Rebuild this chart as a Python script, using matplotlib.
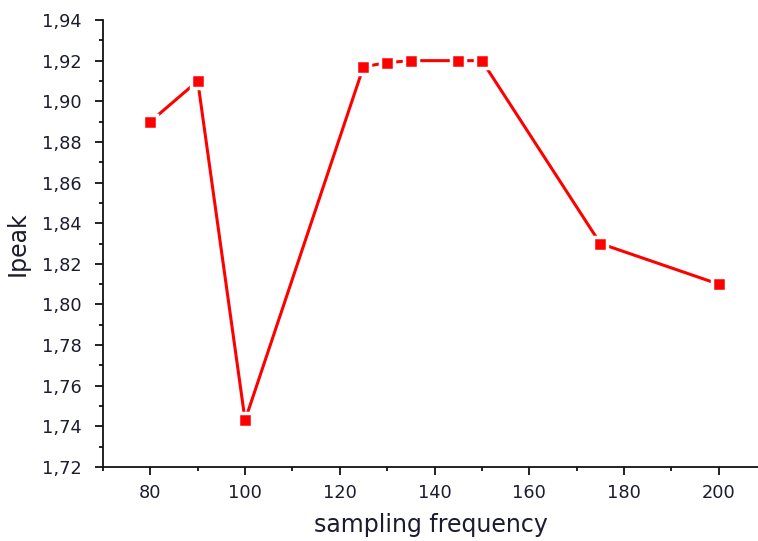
import matplotlib
matplotlib.use("Agg")
import matplotlib.pyplot as plt
from matplotlib.ticker import MultipleLocator, FuncFormatter

# Measured peak current versus sampling frequency
sampling_frequency = [80, 90, 100, 125, 130, 135, 145, 150, 175, 200]
ipeak = [1.890, 1.910, 1.743, 1.917, 1.919, 1.920, 1.920, 1.920, 1.830, 1.810]

x_ticks = [80, 100, 120, 140, 160, 180, 200]
y_ticks = [1.72, 1.74, 1.76, 1.78, 1.80, 1.82, 1.84, 1.86, 1.88, 1.90, 1.92, 1.94]

plt.rcParams["font.family"] = ["DejaVu Sans"]
text_color = "#1c1c30"

fig = plt.figure(figsize=(7.58, 5.41), dpi=100)
ax = fig.add_axes([103 / 758, 74 / 541, 655 / 758, 447 / 541])

ax.plot(sampling_frequency, ipeak, color="#ff0000", linewidth=2.2,
        marker="s", markersize=10.2, markerfacecolor="#ff0000",
        markeredgecolor="white", markeredgewidth=2.5, zorder=3)

ax.set_xlim(70, 208.3)
ax.set_ylim(1.72, 1.94)
ax.set_xticks(x_ticks)
ax.set_yticks(y_ticks)
ax.xaxis.set_minor_locator(MultipleLocator(10))
ax.yaxis.set_minor_locator(MultipleLocator(0.01))
ax.yaxis.set_major_formatter(FuncFormatter(lambda v, p: f"{v:.2f}".replace(".", ",")))

for side in ("top", "right"):
    ax.spines[side].set_visible(False)
for side in ("left", "bottom"):
    ax.spines[side].set_linewidth(1.3)
    ax.spines[side].set_color("#111111")

ax.tick_params(axis="both", which="major", direction="out", length=5.5, width=1.3,
               colors="#111111", labelcolor=text_color, labelsize=12.8)
ax.tick_params(axis="both", which="minor", direction="out", length=3, width=1.3,
               colors="#111111")
ax.tick_params(axis="y", which="major", pad=10)
ax.tick_params(axis="x", which="major", pad=6.5)

ax.set_xlabel("sampling frequency", fontsize=17, color=text_color, labelpad=8)
ax.set_ylabel("Ipeak", fontsize=17, color=text_color, labelpad=9)

fig.savefig("out.png", dpi=100)
